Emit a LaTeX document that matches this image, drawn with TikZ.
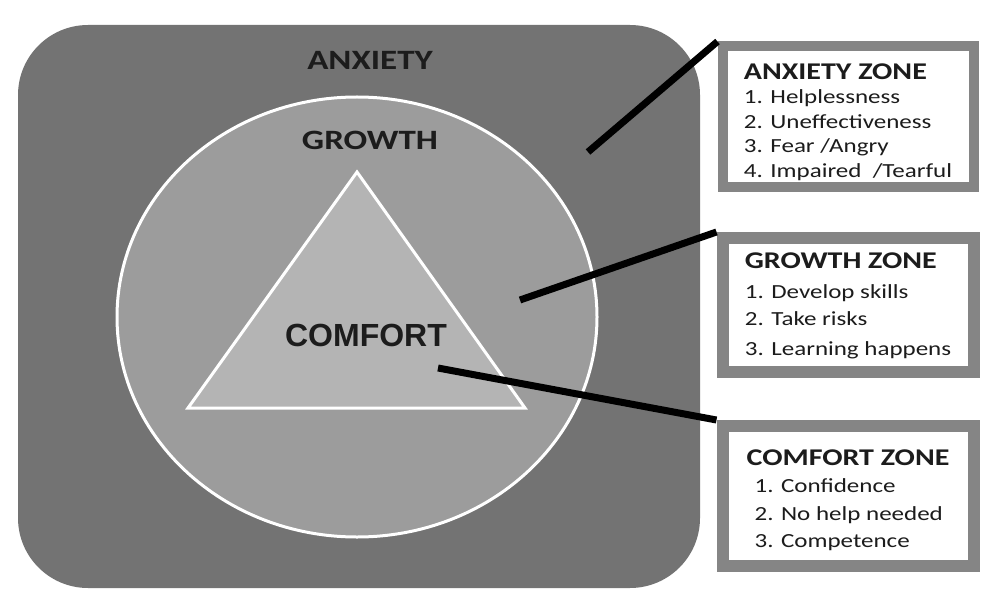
\documentclass[tikz,border=0pt]{standalone}
\usepackage{fontspec}
\setmainfont{Carlito}[FakeStretch=1.25]
\newfontfamily\zonefont{Liberation Sans}
\definecolor{AnxietyGray}{HTML}{737373}
\definecolor{GrowthGray}{HTML}{9C9C9C}
\definecolor{ComfortGray}{HTML}{B4B4B4}
\definecolor{FrameGray}{HTML}{858585}
\definecolor{LabelInk}{HTML}{1C1C1C}
\usetikzlibrary{positioning}

\begin{document}
\begin{tikzpicture}[x=1pt,y=-1pt,
    zonebox/.style={draw=FrameGray,line width=12pt,fill=white,inner sep=0pt,minimum width=251pt},
    zonetext/.style={align=left,inner sep=0pt,text=LabelInk,font=\fontsize{20}{25.5}\selectfont},
    zonelabel/.style={text=LabelInk,font=\bfseries\fontsize{28}{28}\selectfont},
    pointer/.style={line width=7pt,black}]
  \useasboundingbox (0,0) rectangle (982,604);
  % nested zones
  \fill[AnxietyGray,rounded corners=70pt] (18,25) rectangle (700,588);
  \draw[white,line width=3pt,fill=GrowthGray] (357,317) ellipse [x radius=240,y radius=220];
  \draw[white,line width=3pt,fill=ComfortGray] (357,172) -- (525,408) -- (188,408) -- cycle;
  \node[zonelabel] (anxiety) at (370,60) {ANXIETY};
  \node[zonelabel] (growth) at (370,140) {GROWTH};
  \node[zonelabel,font=\zonefont\bfseries\fontsize{32}{32}\selectfont] (comfort) at (366,335) {COMFORT};
  % description boxes
  \node[zonebox,minimum height=141pt,line width=10pt] (anxbox) at (848,117) {};
  \node[zonebox,minimum height=134pt] (growbox) at (848,305) {};
  \node[zonebox,minimum height=140pt] (comfbox) at (848,496) {};
  \node[zonetext,font=\fontsize{20}{24.5}\selectfont] (anxtext) at ([yshift=-5pt]anxbox.center) {{\bfseries\fontsize{24}{24}\selectfont ANXIETY ZONE}\\1. Helplessness\\2. Uneffectiveness\\3. Fear /Angry\\4. Impaired \ /Tearful};
  \node[zonetext] (growtext) at ([yshift=-1pt]growbox.center) {{\bfseries\fontsize{24}{24}\selectfont GROWTH ZONE}\\[4pt]1. Develop skills\\[2pt]2. Take risks\\[4pt]3. Learning happens};
  \node[zonetext] (comftext) at ([yshift=-4pt]comfbox.center) {{\bfseries\fontsize{24}{24}\selectfont COMFORT ZONE}\\[2pt]\hspace{8pt}1. Confidence\\[2pt]\hspace{8pt}2. No help needed\\[2pt]\hspace{8pt}3. Competence};
  % pointers
  \coordinate (anxpt) at (588,152);
  \coordinate (growpt) at (520,300);
  \coordinate (comfpt) at (438,368);
  \draw[pointer] (anxpt) -- (anxbox.north west);
  \draw[pointer] (growpt) -- (growbox.north west);
  \draw[pointer] (comfpt) -- (comfbox.north west);
\end{tikzpicture}
\end{document}
